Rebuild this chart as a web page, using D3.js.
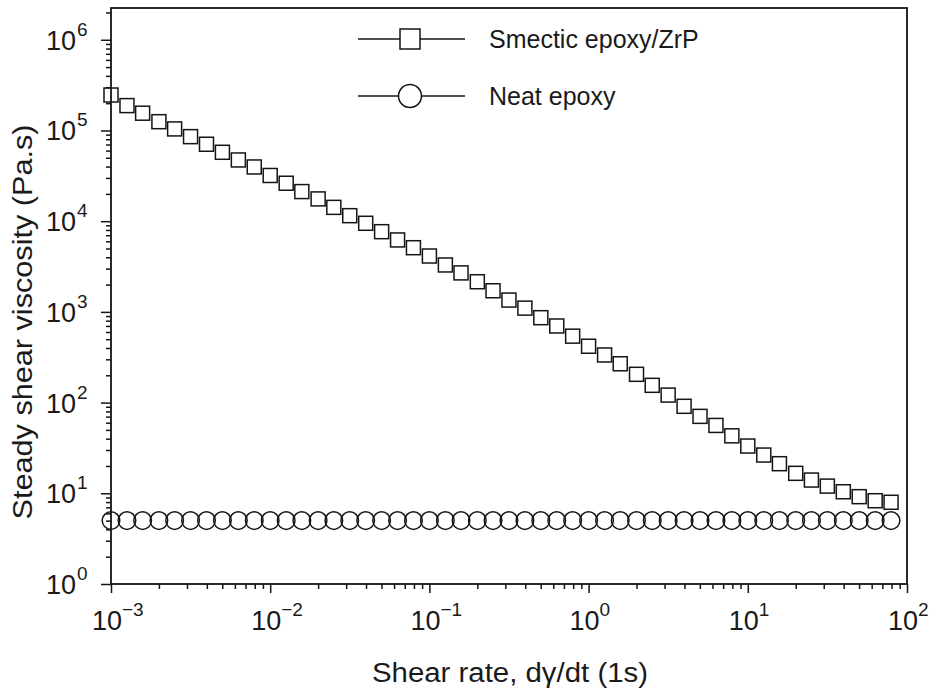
<!DOCTYPE html>
<html>
<head>
<meta charset="utf-8">
<script src="https://cdn.jsdelivr.net/npm/d3@7"></script>
<style>
  html, body { margin: 0; padding: 0; background: #fff; }
  svg { display: block; }
  text { font-family: "Liberation Sans", "DejaVu Sans", sans-serif; fill: #1a1a1a; }
</style>
</head>
<body>
<script>
// ---- data ----
const shearRate = [0.001, 0.00126, 0.00158, 0.002, 0.00251, 0.00316, 0.00398, 0.00501, 0.00631, 0.00794,
  0.01, 0.0126, 0.0158, 0.02, 0.0251, 0.0316, 0.0398, 0.0501, 0.0631, 0.0794,
  0.1, 0.126, 0.158, 0.2, 0.251, 0.316, 0.398, 0.501, 0.631, 0.794,
  1, 1.26, 1.58, 2, 2.51, 3.16, 3.98, 5.01, 6.31, 7.94,
  10, 12.6, 15.8, 20, 25.1, 31.6, 39.8, 50.1, 63.1, 79.4];
const smecticViscosity = [246000, 188000, 155000, 125000, 104000, 85500, 70500, 57500, 47300, 39600,
  31900, 26200, 21200, 17600, 14200, 11500, 9480, 7660, 6210, 5100,
  4130, 3290, 2690, 2150, 1710, 1350, 1100, 863, 699, 540,
  418, 335, 268, 205, 155, 121, 91, 70.5, 56, 43,
  33.2, 26.4, 21.2, 16.6, 14.0, 12.0, 10.4, 9.18, 8.28, 7.96];
const neatViscosity = [5, 5, 5, 5, 5, 5, 5, 5, 5, 5,
  5, 5, 5, 5, 5, 5, 5, 5, 5, 5,
  5, 5, 5, 5, 5, 5, 5, 5, 5, 5,
  5, 5, 5, 5, 5, 5, 5, 5, 5, 5,
  5, 5, 5, 5, 5, 5, 5, 5, 5, 5];
const seriesNames = ["Smectic epoxy/ZrP", "Neat epoxy"];
const xMajorTicks = [1e-3, 1e-2, 1e-1, 1e0, 1e1, 1e2];
const xTickExponents = ["\u22123", "\u22122", "\u22121", "0", "1", "2"];
const yMajorTicks = [1e0, 1e1, 1e2, 1e3, 1e4, 1e5, 1e6];
const yTickExponents = ["0", "1", "2", "3", "4", "5", "6"];
const xTitle = "Shear rate, d\u03b3/dt (1s)";
const yTitle = "Steady shear viscosity (Pa.s)";

// ---- layout ----
const W = 932, H = 698;
const L = 111, R = 907, T = 8, B = 584;
const ink = "#151515";

const svg = d3.select("body").append("svg").attr("width", W).attr("height", H);
svg.append("rect").attr("width", W).attr("height", H).attr("fill", "#fff");

const x = d3.scaleLog().domain([1e-3, 1e2]).range([L, R]);
const y = d3.scaleLog().domain([1, 2.24e6]).range([B, T]);

const isMajor = v => Math.abs(Math.log10(v) - Math.round(Math.log10(v))) < 1e-9;
const xMinor = x.ticks().filter(v => !isMajor(v));
const yMinor = y.ticks().filter(v => !isMajor(v));

function styleAxis(g) {
  g.selectAll("path.domain").remove();
  g.selectAll(".tick line").attr("stroke", ink).attr("stroke-width", 1.5);
  g.selectAll(".tick text").remove();
}

// x axis
svg.append("g").attr("transform", `translate(0,${B})`)
  .call(d3.axisBottom(x).tickValues(xMajorTicks).tickSize(9).tickSizeOuter(0).tickFormat(""))
  .call(styleAxis);
svg.append("g").attr("transform", `translate(0,${B})`)
  .call(d3.axisBottom(x).tickValues(xMinor).tickSize(5).tickSizeOuter(0).tickFormat(""))
  .call(styleAxis);
// y axis
svg.append("g").attr("transform", `translate(${L},0)`)
  .call(d3.axisLeft(y).tickValues(yMajorTicks).tickSize(10).tickSizeOuter(0).tickFormat(""))
  .call(styleAxis);
svg.append("g").attr("transform", `translate(${L},0)`)
  .call(d3.axisLeft(y).tickValues(yMinor).tickSize(5).tickSizeOuter(0).tickFormat(""))
  .call(styleAxis);

// frame
svg.append("rect").attr("x", L).attr("y", T).attr("width", R - L).attr("height", B - T)
  .attr("fill", "none").attr("stroke", ink).attr("stroke-width", 1.8);

// x tick labels
xMajorTicks.forEach((v, i) => {
  const px = x(v);
  svg.append("text").attr("x", px - 4).attr("y", 630).attr("text-anchor", "middle")
    .attr("font-size", 27).text("10");
  svg.append("text").attr("x", px + 11).attr("y", 616).attr("text-anchor", "start")
    .attr("font-size", 19).text(xTickExponents[i]);
});
// y tick labels
yMajorTicks.forEach((v, i) => {
  const py = y(v);
  svg.append("text").attr("x", 76).attr("y", py + 10).attr("text-anchor", "end")
    .attr("font-size", 27).text("10");
  svg.append("text").attr("x", 77).attr("y", py - 4).attr("text-anchor", "start")
    .attr("font-size", 19).text(yTickExponents[i]);
});

// axis titles
svg.append("text").attr("x", 510).attr("y", 682).attr("text-anchor", "middle")
  .attr("font-size", 27).attr("textLength", 276).attr("lengthAdjust", "spacingAndGlyphs")
  .text(xTitle);
svg.append("text").attr("transform", "translate(32,322) rotate(-90)")
  .attr("text-anchor", "middle").attr("font-size", 27)
  .attr("textLength", 395).attr("lengthAdjust", "spacingAndGlyphs").text(yTitle);

// data markers
const smectic = shearRate.map((r, i) => ({ r, v: smecticViscosity[i] }));
const neat = shearRate.map((r, i) => ({ r, v: neatViscosity[i] }));
const sq = 14;
svg.append("g").selectAll("rect").data(smectic).join("rect")
  .attr("x", d => x(d.r) - sq / 2).attr("y", d => y(d.v) - sq / 2)
  .attr("width", sq).attr("height", sq)
  .attr("fill", "none").attr("stroke", ink).attr("stroke-width", 1.5);
svg.append("g").selectAll("circle").data(neat).join("circle")
  .attr("cx", d => x(d.r)).attr("cy", d => y(d.v)).attr("r", 8.8)
  .attr("fill", "none").attr("stroke", ink).attr("stroke-width", 1.5);

// legend
const legend = svg.append("g");
const legRows = [39, 96];
legRows.forEach((ly, i) => {
  legend.append("line").attr("x1", 358).attr("x2", 465).attr("y1", ly).attr("y2", ly)
    .attr("stroke", ink).attr("stroke-width", 1.5);
  if (i === 0) {
    legend.append("rect").attr("x", 400).attr("y", ly - 10).attr("width", 20).attr("height", 20)
      .attr("fill", "#fff").attr("stroke", ink).attr("stroke-width", 1.5);
  } else {
    legend.append("circle").attr("cx", 410).attr("cy", ly).attr("r", 11.5)
      .attr("fill", "#fff").attr("stroke", ink).attr("stroke-width", 1.5);
  }
  legend.append("text").attr("x", 489).attr("y", ly + 9).attr("font-size", 25).text(seriesNames[i]);
});
</script>
</body>
</html>
